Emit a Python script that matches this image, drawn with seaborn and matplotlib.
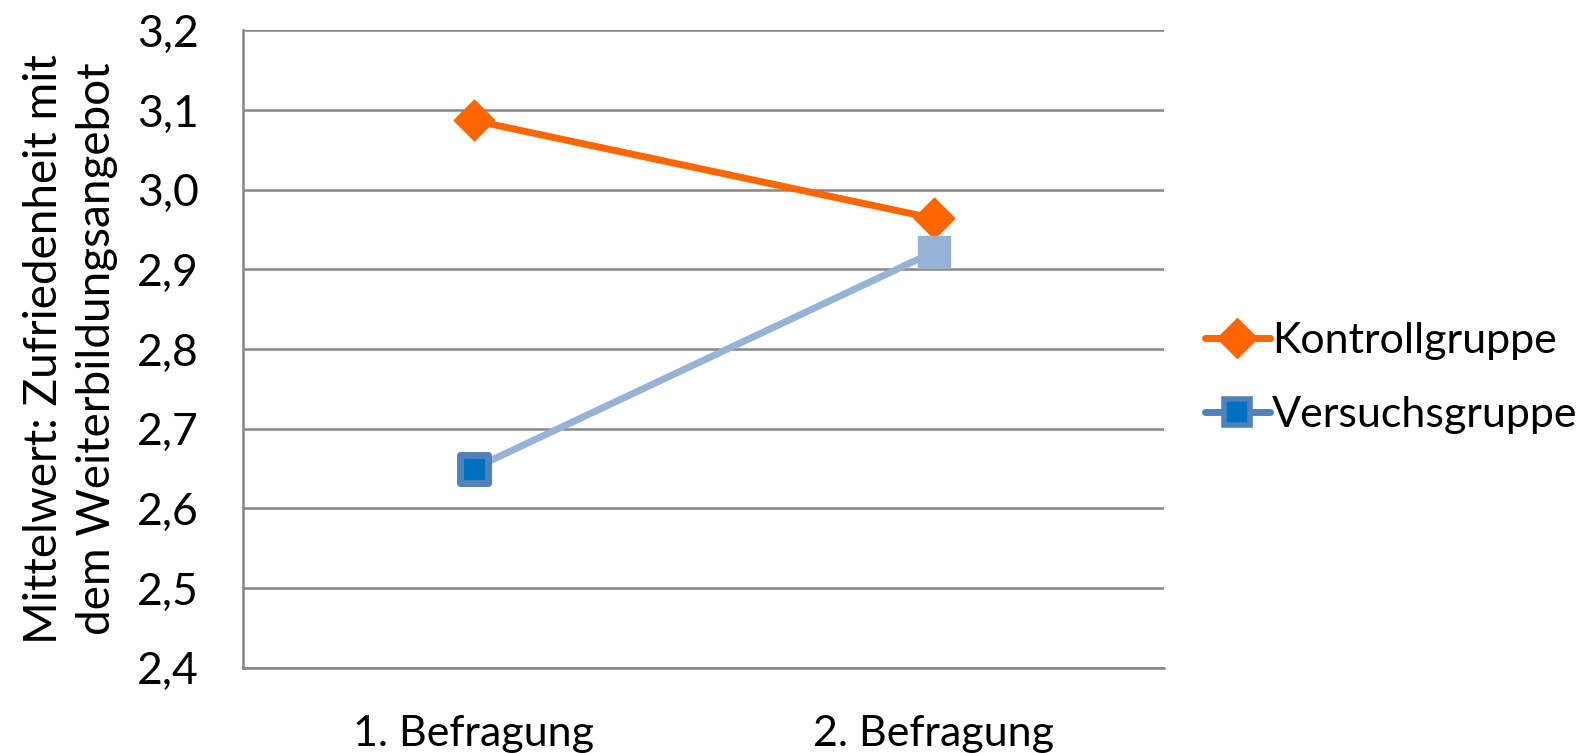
import matplotlib
matplotlib.use("Agg")
import matplotlib.pyplot as plt
from matplotlib.lines import Line2D
import seaborn as sns
import pandas as pd

# Survey waves and group means
befragungen = ["1. Befragung", "2. Befragung"]
kontrollgruppe = [3.087, 2.964]
versuchsgruppe = [2.650, 2.922]
gruppen = ["Kontrollgruppe", "Versuchsgruppe"]
y_ticks = [2.4, 2.5, 2.6, 2.7, 2.8, 2.9, 3.0, 3.1, 3.2]

orange = "#FF6600"
blau_hell = "#95B3D7"
blau_rand = "#4F81BD"
blau_kern = "#0070C0"
grau = "#868686"

df = pd.DataFrame({
    "x": list(range(len(befragungen))) * 2,
    "wert": kontrollgruppe + versuchsgruppe,
    "gruppe": [gruppen[0]] * len(befragungen) + [gruppen[1]] * len(befragungen),
})

sns.set_theme(style="white")
plt.rcParams["font.family"] = ["Lato", "DejaVu Sans"]
plt.rcParams["text.color"] = "black"
plt.rcParams["axes.labelcolor"] = "black"
plt.rcParams["xtick.labelcolor"] = "black"
plt.rcParams["ytick.labelcolor"] = "black"

fig = plt.figure(figsize=(15.91, 7.53), dpi=100)
ax = fig.add_axes([0.153, 0.1133, 0.5786, 0.8463])

sns.lineplot(data=df, x="x", y="wert", hue="gruppe",
             palette={gruppen[0]: orange, gruppen[1]: blau_hell},
             linewidth=5, legend=False, ax=ax, zorder=3)

# Markers
ax.scatter([0, 1], kontrollgruppe, marker="D", s=430, color=orange,
           edgecolor=orange, zorder=5)
ax.scatter([0], versuchsgruppe[:1], marker="s", s=380, color=blau_kern,
           edgecolor=blau_rand, linewidths=5, zorder=5)
ax.scatter([1], versuchsgruppe[1:], marker="s", s=520, color=blau_hell,
           edgecolor=blau_hell, zorder=5)

ax.set_xlim(-0.5, 1.5)
ax.set_ylim(2.4, 3.2)
ax.set_yticks(y_ticks)
ax.set_yticklabels([f"{v:.1f}".replace(".", ",") for v in y_ticks], fontsize=32)
ax.set_xticks(range(len(befragungen)))
ax.set_xticklabels(befragungen, fontsize=31)
ax.set_xticks([-0.5, 0.5, 1.5], minor=True)
ax.tick_params(axis="x", which="major", length=0, pad=34)
ax.tick_params(axis="x", which="minor", length=10, width=1.8, color=grau, direction="out")
ax.tick_params(axis="y", length=10, width=1.8, color=grau, direction="out", pad=22)
ax.grid(axis="y", color=grau, linewidth=1.8, zorder=0)
ax.grid(axis="x", visible=False)

for side in ["top", "right"]:
    ax.spines[side].set_visible(False)
for side in ["left", "bottom"]:
    ax.spines[side].set_color(grau)
    ax.spines[side].set_linewidth(1.8)

ax.set_xlabel("")
ax.set_ylabel("Mittelwert: Zufriedenheit mit\ndem Weiterbildungsangebot", fontsize=33,
              linespacing=1.3, labelpad=14)

handles = [
    Line2D([0], [0], color=orange, linewidth=5, marker="D", markersize=20,
           markerfacecolor=orange, markeredgecolor=orange),
    Line2D([0], [0], color=blau_rand, linewidth=5, marker="s", markersize=19,
           markerfacecolor=blau_kern, markeredgecolor=blau_rand, markeredgewidth=4),
]
fig.legend(handles, gruppen, loc="center left", bbox_to_anchor=(0.733, 0.498),
           frameon=False, fontsize=31, handlelength=1.5, handletextpad=0.05,
           labelspacing=0.85)

fig.savefig("out.png", dpi=100, facecolor="white")
